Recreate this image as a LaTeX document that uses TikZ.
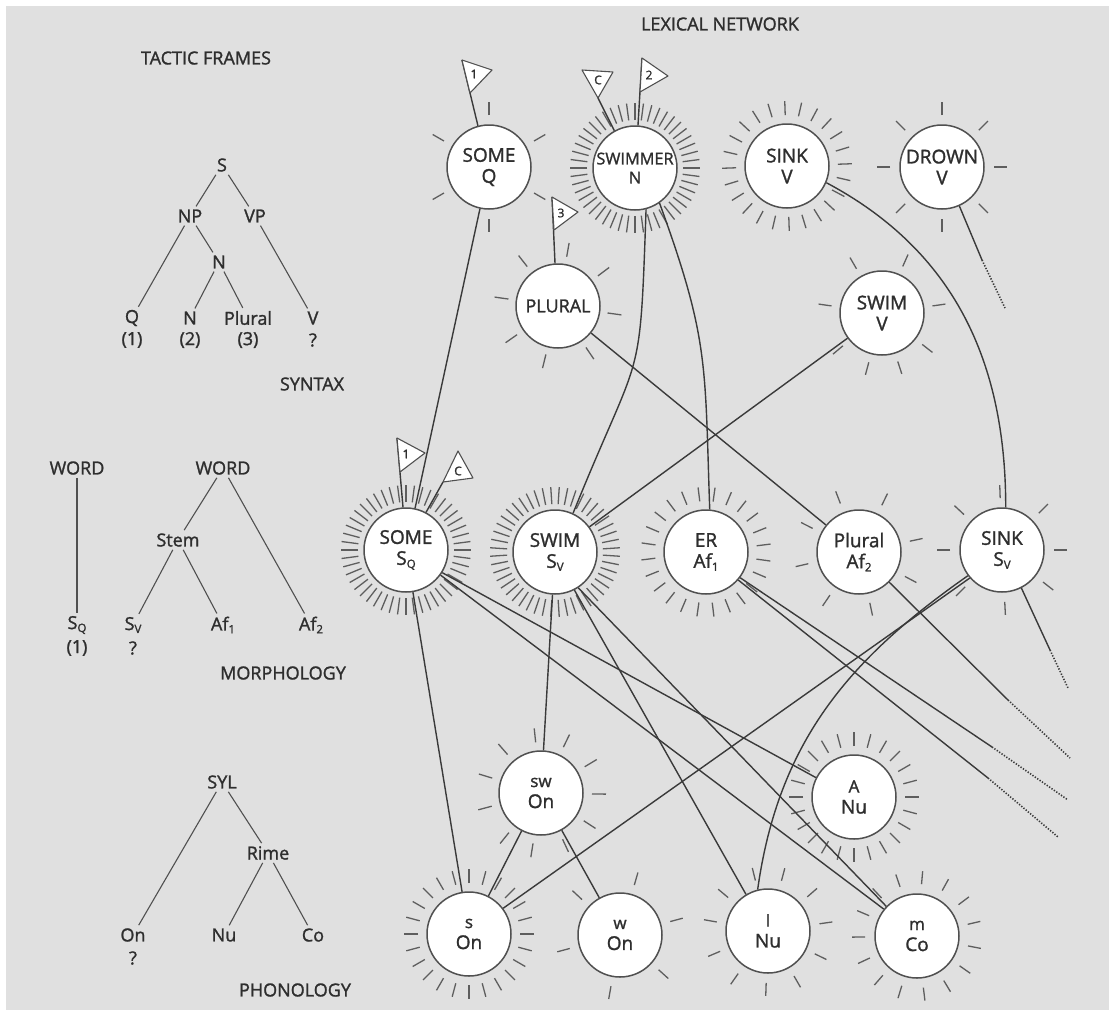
\documentclass[tikz,border=0pt]{standalone}
\usepackage{fontspec}
\setmainfont{Open Sans}[BoldFont={Open Sans}, BoldFeatures={FakeBold=1.4}]
\usetikzlibrary{calc}
\definecolor{bgc}{RGB}{224,224,224}
\definecolor{txt}{HTML}{2E2E2E}
\definecolor{circ}{HTML}{505050}
\definecolor{lnc}{HTML}{3A3A3A}
\definecolor{rayc}{HTML}{5E5E5E}
\newcommand\sbs[1]{\raisebox{-0.3ex}{\fontsize{11.5}{11.5}\selectfont #1}}
\newcommand\smt[1]{{\fontsize{17}{17}\selectfont #1}}
\newcommand\rays[4]{\foreach \a in {#4}{\draw[ray] ([shift={(\a:#2pt)}]#1.center) -- ([shift={(\a:#3pt)}]#1.center);}}
\tikzset{
  lex/.style={circle, draw=circ, fill=white, line width=1.5pt, minimum size=84pt, inner sep=0pt, align=center, font=\bfseries\fontsize{19}{21}\selectfont, text=txt},
  ray/.style={draw=rayc, line width=1.3pt},
  conn/.style={draw=lnc, line width=1.4pt},
  dotl/.style={draw=lnc, line width=1.6pt, dash pattern=on 1.3pt off 1.6pt},
  flag/.style={fill=white, draw=circ, line width=1.1pt, line join=round},
  flagtxt/.style={font=\bfseries\fontsize{12}{12}\selectfont, text=txt, inner sep=0pt},
  tl/.style={font=\bfseries\fontsize{18}{20}\selectfont, text=txt, inner sep=3pt},
  hd/.style={font=\bfseries\fontsize{18}{20}\selectfont, text=txt, inner sep=0pt},
  tline/.style={draw=circ, line width=1.1pt}
}
\begin{document}
\begin{tikzpicture}[x=1pt,y=-1pt]
\useasboundingbox (0,0) rectangle (1109,1010);
\fill[white] (0,0) rectangle (1109,1010);
\fill[bgc] (6,6) rectangle (1109,1010);

% headings
\node[hd] (hTF) at (206,58) {TACTIC FRAMES};
\node[hd] (hLN) at (720,24) {LEXICAL NETWORK};
\node[hd] (hSY) at (312,384) {SYNTAX};
\node[hd] (hMO) at (283,673) {MORPHOLOGY};
\node[hd] (hPH) at (295,990) {PHONOLOGY};

% syntax tree
\node[tl] (tS) at (222,165) {S};
\node[tl] (tNP) at (190,216) {NP};
\node[tl] (tVP) at (255,216) {VP};
\node[tl] (tN) at (219,262) {N};
\node[tl] (tQ) at (132,318) {Q};
\node[tl] (tN2) at (190,318) {N};
\node[tl] (tPl) at (248,318) {Plural};
\node[tl] (tV) at (313,318) {V};
\node[tl] (tn1) at (132,340) {(1)};
\node[tl] (tn2) at (190,340) {(2)};
\node[tl] (tn3) at (248,340) {(3)};
\node[tl] (tnq) at (313,340) {?};
\draw[tline] (tS) -- (tNP);
\draw[tline] (tS) -- (tVP);
\draw[tline] (tNP) -- (tQ);
\draw[tline] (tNP) -- (tN);
\draw[tline] (tN) -- (tN2);
\draw[tline] (tN) -- (tPl);
\draw[tline] (tVP) -- (tV);

% morphology trees
\node[tl] (mW1) at (77,468) {WORD};
\node[tl] (mW2) at (223,468) {WORD};
\node[tl] (mSt) at (178,540) {Stem};
\node[tl] (mSQ) at (77,625) {S\sbs{Q}};
\node[tl] (mSV) at (133,625) {S\sbs{V}};
\node[tl] (mA1) at (223,625) {Af\sbs{1}};
\node[tl] (mA2) at (311,625) {Af\sbs{2}};
\node[tl] (mn1) at (77,648) {(1)};
\node[tl] (mnq) at (133,648) {?};
\draw[tline] (mW1) -- (mSQ);
\draw[tline] (mW2) -- (mSt);
\draw[tline] (mW2) -- (mA2);
\draw[tline] (mSt) -- (mSV);
\draw[tline] (mSt) -- (mA1);

% phonology tree
\node[tl] (pSY) at (222,782) {SYL};
\node[tl] (pRi) at (268,853) {Rime};
\node[tl] (pOn) at (133,935) {On};
\node[tl] (pNu) at (224,935) {Nu};
\node[tl] (pCo) at (313,935) {Co};
\node[tl] (pq) at (133,958) {?};
\draw[tline] (pSY) -- (pOn);
\draw[tline] (pSY) -- (pRi);
\draw[tline] (pRi) -- (pNu);
\draw[tline] (pRi) -- (pCo);

% lexical network nodes
\node[lex] (someq) at (489,167) {SOME\\Q};
\node[lex, font=\bfseries\fontsize{16.3}{19}\selectfont] (swimmer) at (635,168) {SWIMMER\\N};
\node[lex] (sinkv) at (787,166) {SINK\\V};
\node[lex] (drownv) at (942,167) {DROWN\\V};
\node[lex, font=\bfseries\fontsize{18}{21}\selectfont] (plural) at (558,306) {PLURAL};
\node[lex] (swimv) at (882,313) {SWIM\\V};
\node[lex] (somesq) at (406,550) {SOME\\S\sbs{Q}};
\node[lex] (swimsv) at (555,552) {SWIM\\S\sbs{V}};
\node[lex] (eraf) at (706,552) {ER\\Af\sbs{1}};
\node[lex] (pluralaf) at (859,552) {Plural\\Af\sbs{2}};
\node[lex] (sinksv) at (1002,550) {SINK\\S\sbs{V}};
\node[lex] (swon) at (541,793) {\smt{sw}\\On};
\node[lex] (anu) at (854,797) {\smt{A}\\Nu};
\node[lex] (son) at (469,934) {\smt{s}\\On};
\node[lex] (won) at (620,935) {\smt{w}\\On};
\node[lex] (inu) at (768,931) {\smt{I}\\Nu};
\node[lex] (mco) at (917,936) {\smt{m}\\Co};

% rays
\rays{someq}{52}{65}{30,90,150,210,270,330}
\rays{swimmer}{48}{65}{0,7.5,...,352.5}
\rays{sinkv}{51}{65}{2,17,...,347}
\rays{drownv}{52}{65}{0,45,...,315}
\rays{plural}{50}{64}{80,128,37,172,-8,-145,-104,-56}
\rays{swimv}{51}{64}{120,66,172,8,-140,-105,-72,-38}
\rays{somesq}{48}{65}{0,7.5,...,352.5}
\rays{swimsv}{48}{65}{3.75,11.25,...,356.25}
\rays{eraf}{51}{65}{7,22,...,352}
\rays{pluralaf}{52}{65}{111,64,153,12,-167,-28,-124,-78}
\rays{sinksv}{52}{65}{92,137,45,180,0,-38,-87,-135}
\rays{swon}{51}{65}{96,64,131,31,163,-1,-165,-33,-129,-99,-65}
\rays{anu}{51}{65}{0,15,...,345}
\rays{son}{51}{65}{0,15,...,345}
\rays{won}{52}{65}{74,137,15,-165,-42,-100}
\rays{inu}{52}{65}{140,104,75,41,8,-26,-60,-92,-125,-157,170}
\rays{mco}{52}{65}{13,37,...,349}

% connectors
\draw[conn] (someq) -- (somesq);
\draw[conn] (swimmer.-75) to[out=-92,in=68,looseness=1.5] (swimsv.65);
\draw[conn] (swimmer.-55) to[out=-70,in=92,looseness=1.2] (eraf.85);
\draw[conn] (plural) -- (pluralaf);
\draw[conn] (swimv) -- (swimsv);
\draw[conn] (sinkv.-23) to[out=-28,in=90] (sinksv.85);
\draw[conn] (somesq) -- (son);
\draw[conn] (somesq.-32) -- (anu.153);
\draw[conn] (somesq.-36) -- (mco.141);
\draw[conn] (swimsv) -- (swon);
\draw[conn] (swimsv.-63) -- (inu.121);
\draw[conn] (swimsv.-57) -- (mco.136);
\draw[conn] (swon) -- (son);
\draw[conn] (swon) -- (won);
\draw[conn] (sinksv.-139) -- (son.37);
\draw[conn] (inu.104) to[out=82,in=215] (sinksv.-143);

% open-ended connectors
\coordinate (dr1) at (982,260); \coordinate (dr2) at (1005,308);
\coordinate (sk1) at (1050,650); \coordinate (sk2) at (1068,688);
\coordinate (pa1) at (1008,700); \coordinate (pa2) at (1070,758);
\coordinate (ea1) at (992,747); \coordinate (ea2) at (1068,800);
\coordinate (eb1) at (988,778); \coordinate (eb2) at (1058,837);
\draw[conn] (drownv.-66) -- (dr1); \draw[dotl] (dr1) -- (dr2);
\draw[conn] (sinksv.-63) -- (sk1); \draw[dotl] (sk1) -- (sk2);
\draw[conn] (pluralaf.-45) -- (pa1); \draw[dotl] (pa1) -- (pa2);
\draw[conn] (eraf.-37) -- (ea1); \draw[dotl] (ea1) -- (ea2);
\draw[conn] (eraf.-41) -- (eb1); \draw[dotl] (eb1) -- (eb2);

% flags
\coordinate (fa) at (462,60);
\draw[conn] (someq.105) -- (fa);
\draw[flag] (fa) -- (492,70) -- (470,93) -- cycle;
\node[flagtxt] at (474,74) {1};

\coordinate (fb) at (598,98);
\draw[conn] (swimmer.119) -- (fb);
\draw[flag] (582,70) -- (613,72) -- (fb) -- cycle;
\node[flagtxt] at (598,80) {C};

\coordinate (fc) at (642,58);
\draw[conn] (swimmer.86) -- (fc);
\draw[flag] (fc) -- (668,76) -- (640,92) -- cycle;
\node[flagtxt] at (649,75) {2};

\coordinate (fd) at (552,197);
\draw[conn] (plural.94) -- (fd);
\draw[flag] (fd) -- (578,212) -- (554,230) -- cycle;
\node[flagtxt] at (561,213) {3};

\coordinate (fe) at (397,438);
\draw[conn] (somesq.94) -- (fe);
\draw[flag] (fe) -- (425,453) -- (400,472) -- cycle;
\node[flagtxt] at (406,454) {1};

\coordinate (ff) at (443,482);
\draw[conn] (somesq.62) -- (ff);
\draw[flag] (ff) -- (473,478) -- (458,451) -- cycle;
\node[flagtxt] at (458,471) {C};
\end{tikzpicture}
\end{document}
